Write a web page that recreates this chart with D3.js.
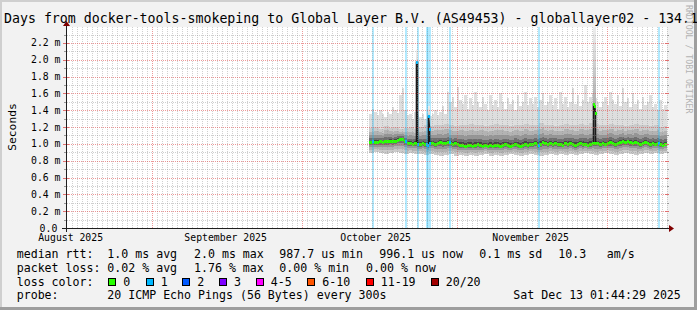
<!DOCTYPE html>
<html>
<head>
<meta charset="utf-8">
<script src="https://cdn.jsdelivr.net/npm/d3@7"></script>
<style>
  html, body { margin: 0; padding: 0; background: #f2f2f2; }
  svg { display: block; }
  text { font-family: "DejaVu Sans Mono", monospace; fill: #000; }
</style>
</head>
<body>
<svg width="697" height="310"></svg>
<script>
/*
 * data (values in ms)
 */
var titleText = "Days from docker-tools-smokeping to Global Layer B.V. (AS49453) - globallayer02 - 134.1";
var startTime = new Date(2025, 7, 15, 1, 44, 29),
    endTime = new Date(2025, 11, 13, 1, 44, 29);
var yMax = 2.39;
var yTickValues = [0, 0.2, 0.4, 0.6, 0.8, 1.0, 1.2, 1.4, 1.6, 1.8, 2.0, 2.2];
var yTickLabels = ["0.0", "0.2 m", "0.4 m", "0.6 m", "0.8 m", "1.0 m", "1.2 m", "1.4 m", "1.6 m", "1.8 m", "2.0 m", "2.2 m"];
var monthLabels = ["August 2025", "September 2025", "October 2025", "November 2025"];

// half-day samples starting here
var firstSample = new Date(2025, 9, 14, 12, 0);
var rttMedian = [
  1.02, 1.03, 1.02, 1.02, 1.03, 1.02, 1.03, 1.03, 1.04, 1.03, 1.04, 1.05,
  1.06, 1.06, 1.03,
  1.01, 1.01, 1.00, 1.01, 1.00,
  1.00, 1.01, 1.00, 0.99, 1.01,
  1.01, 1.00, 1.01, 1.02, 1.01, 1.01,
  1.02, 1.01, 1.00, 1.01, 1.00, 0.99,
  0.99, 0.98, 0.99, 0.99, 0.98, 0.99, 1.00, 0.99, 0.98, 0.99, 0.98, 0.99, 0.98, 0.99,
  0.99, 0.98, 0.99, 1.00, 0.99, 0.98, 0.99, 1.00, 0.99, 0.98, 0.99, 1.00, 0.99, 1.00,
  1.00, 1.01, 0.99, 1.00, 1.02, 1.01, 1.00, 1.01,
  1.00, 1.01, 1.00, 1.00, 0.99, 1.01, 1.00, 1.01, 1.00, 0.99, 1.00, 1.01, 1.00, 1.00, 0.99, 1.00, 1.01,
  1.01, 1.01,
  1.00, 1.01, 1.00, 1.01, 1.02, 1.01, 1.00, 1.01, 1.02, 1.03, 1.02, 1.03, 1.02, 1.01,
  1.02, 1.01, 1.00, 1.01, 1.02, 1.01, 1.00, 1.01, 1.00, 1.01, 1.00, 0.99, 1.00, 1.00
];
var smokeTop = [
  1.36, 1.42, 1.38, 1.34, 1.40, 1.36, 1.32, 1.38, 1.35, 1.44, 1.40, 1.37,
  1.58, 1.66, 1.40,
  1.34, 1.36, 1.30, 1.38, 1.34,
  1.32, 1.36, 1.30, 1.35, 1.33,
  1.36, 1.40, 1.34, 1.38, 1.45, 1.36,
  1.62, 1.50, 1.56, 1.44, 1.68, 1.52,
  1.48, 1.58, 1.42, 1.54, 1.46, 1.62, 1.50, 1.44, 1.56, 1.48, 1.40, 1.58, 1.46, 1.52,
  1.44, 1.60, 1.50, 1.42, 1.55, 1.47, 1.52, 1.40, 1.58, 1.45, 1.50, 1.62, 1.46, 1.54,
  1.48, 1.56, 1.44, 1.52, 1.60, 1.46, 1.50, 1.58,
  1.46, 1.54, 1.42, 1.62, 1.48, 1.56, 1.44, 1.50, 1.66, 1.48, 1.58, 1.45, 1.52, 1.70, 1.50, 1.56, 1.60,
  1.55, 1.50,
  1.44, 1.50, 1.56, 1.46, 1.62, 1.52, 1.48, 1.58, 1.45, 1.66, 1.50, 1.54, 1.44, 1.60,
  1.48, 1.52, 1.42, 1.56, 1.46, 1.50, 1.58, 1.44, 1.48, 1.40, 1.52, 1.42, 1.46, 1.38
];
// daily samples
var smokeBody = [
  1.19, 1.20, 1.18, 1.21, 1.19, 1.20, 1.18, 1.19, 1.20, 1.18,
  1.20, 1.22, 1.21, 1.23, 1.22, 1.24, 1.22, 1.21, 1.23, 1.22,
  1.24, 1.22, 1.23, 1.21, 1.22, 1.24, 1.23, 1.22, 1.21, 1.23,
  1.22, 1.24, 1.22, 1.23, 1.25, 1.22, 1.23, 1.21, 1.22, 1.24,
  1.23, 1.22, 1.24, 1.23, 1.25, 1.24, 1.22, 1.23, 1.24, 1.22,
  1.23, 1.21, 1.22, 1.24, 1.22, 1.23, 1.21, 1.22, 1.20, 1.21
];
var smokeLow = [
  0.89, 0.90, 0.89, 0.88, 0.89, 0.90, 0.89, 0.88, 0.89, 0.88,
  0.88, 0.87, 0.88, 0.87, 0.86, 0.87, 0.88, 0.86, 0.87, 0.86,
  0.87, 0.86, 0.87, 0.88, 0.86, 0.87, 0.86, 0.87, 0.88, 0.87,
  0.86, 0.87, 0.88, 0.87, 0.86, 0.87, 0.88, 0.87, 0.88, 0.87,
  0.88, 0.87, 0.88, 0.89, 0.88, 0.87, 0.88, 0.89, 0.88, 0.87,
  0.88, 0.89, 0.88, 0.87, 0.88, 0.89, 0.88, 0.89, 0.88, 0.89
];

// short spikes (one value per 4.8 h step)
var spikeStart = [new Date(2025, 9, 23, 23), new Date(2025, 9, 26, 5), new Date(2025, 10, 28, 6)];
var spikeMedians = [[1.97], [1.33, 1.18], [1.48, 1.45, 1.37]];
var spikeTop = [2.12, 1.45, 2.39];
var spikeLoss = [1, 1, 0];

// packet loss events
var lossDates = [
  new Date(2025, 9, 15, 1), new Date(2025, 9, 21, 16), new Date(2025, 9, 24, 4),
  new Date(2025, 9, 25, 20), new Date(2025, 9, 26, 4), new Date(2025, 9, 26, 12),
  new Date(2025, 9, 30, 10), new Date(2025, 10, 17, 6), new Date(2025, 11, 11, 6)
];
var lossCounts = [1, 1, 1, 1, 1, 1, 1, 1, 1];

var lossColors = ["#26ff00", "#00b8ff", "#0059ff", "#7e00ff", "#ff00ff", "#ff5500", "#ff0000", "#a10000"];
var lossLabels = ["0", "1", "2", "3", "4-5", "6-10", "11-19", "20/20"];

var legendHeads = ["median rtt:", "packet loss:", "loss color:", "probe:"];
var medianStats = ["1.0 ms avg", "2.0 ms max", "987.7 us min", "996.1 us now", "0.1 ms sd", "10.3", "am/s"];
var lossStats = ["0.02 % avg", "1.76 % max", "0.00 % min", "0.00 % now"];
var probeText = "20 ICMP Echo Pings (56 Bytes) every 300s";
var stampText = "Sat Dec 13 01:44:29 2025";

/*
 * layout
 */
var svg = d3.select("svg"),
    W = 697, H = 310,
    X0 = 67, X1 = 667, Y0 = 228, Y1 = 27;

var x = d3.scaleTime().domain([startTime, endTime]).range([X0, X1]);
var y = d3.scaleLinear().domain([0, yMax]).range([Y0, Y1]);

// background and 3d frame
svg.append("rect").attr("width", W).attr("height", H).attr("fill", "#f2f2f2");
svg.append("rect").attr("width", W).attr("height", 2).attr("fill", "#cfcfcf");
svg.append("rect").attr("width", 2).attr("height", H).attr("fill", "#cfcfcf");
svg.append("rect").attr("y", H - 3).attr("width", W).attr("height", 3).attr("fill", "#9e9e9e");
svg.append("rect").attr("x", W - 3).attr("width", 3).attr("height", H).attr("fill", "#9e9e9e");

// canvas
svg.append("rect").attr("x", X0).attr("y", Y1).attr("width", X1 - X0).attr("height", Y0 - Y1).attr("fill", "#fff");

/*
 * smoke
 */
var hour12 = 12 * 3600 * 1000;
var samples = rttMedian.map(function(m, k) {
  var t0 = d3.timeHour.offset(firstSample, 12 * k),
      t1 = d3.timeHour.offset(firstSample, 12 * (k + 1));
  return {
    x0: Math.round(x(t0)), x1: Math.min(Math.round(x(t1)), X1),
    med: m, top: smokeTop[k], body: smokeBody[k >> 1], low: smokeLow[k >> 1]
  };
});

function sampleAt(date) {
  var k = Math.floor((date - firstSample) / hour12);
  return samples[Math.max(0, Math.min(samples.length - 1, k))];
}

var smoke = svg.append("g").attr("class", "smoke").attr("shape-rendering", "crispEdges");

smoke.append("g").selectAll("rect")
  .data(samples)
  .enter().append("rect")
    .attr("x", function(d) { return d.x0; })
    .attr("width", function(d) { return d.x1 - d.x0; })
    .attr("y", function(d) { return y(d.top); })
    .attr("height", function(d) { return y(d.low) - y(d.top); })
    .attr("fill", "#dedede");

var shades = [
  {f: 1.00, c: "#cbcbcb"},
  {f: 0.72, c: "#b3b3b3"},
  {f: 0.48, c: "#969696"},
  {f: 0.28, c: "#6f6f6f"},
  {f: 0.12, c: "#474747"}
];
shades.forEach(function(s) {
  smoke.append("g").selectAll("rect")
    .data(samples)
    .enter().append("rect")
      .attr("x", function(d) { return d.x0; })
      .attr("width", function(d) { return d.x1 - d.x0; })
      .attr("y", function(d) { return y(d.med + s.f * (d.body - d.med)); })
      .attr("height", function(d) {
        return y(d.med - s.f * (d.med - d.low)) - y(d.med + s.f * (d.body - d.med));
      })
      .attr("fill", s.c);
});

// loss background lines
svg.append("g").attr("shape-rendering", "crispEdges").selectAll("rect")
  .data(lossDates)
  .enter().append("rect")
    .attr("x", function(d) { return Math.round(x(d)); })
    .attr("width", 2)
    .attr("y", Y1)
    .attr("height", Y0 - Y1)
    .attr("fill", function(d, i) { return lossColors[lossCounts[i]]; })
    .attr("opacity", 0.3);

/*
 * spikes
 */
var defs = svg.append("defs");
var spikes = spikeStart.map(function(t, i) {
  var xs = Math.round(x(t)),
      n = spikeMedians[i].length,
      base = sampleAt(t).med;
  return {i: i, xs: xs, xe: xs + n, base: base, meds: spikeMedians[i], top: spikeTop[i], loss: spikeLoss[i]};
});

spikes.forEach(function(s) {
  var grad = defs.append("linearGradient")
      .attr("id", "spk" + s.i).attr("x1", 0).attr("y1", 0).attr("x2", 0).attr("y2", 1);
  grad.append("stop").attr("offset", "0%").attr("stop-color", "#eeeeee");
  grad.append("stop").attr("offset", "100%").attr("stop-color", "#8c8c8c");
});

var spk = svg.append("g").attr("class", "spikes");
spk.selectAll("rect.col")
  .data(spikes)
  .enter().append("rect")
    .attr("class", "col")
    .attr("x", function(d) { return d.xs; })
    .attr("width", function(d) { return Math.max(2, d.xe - d.xs); })
    .attr("y", function(d) { return y(d.top); })
    .attr("height", function(d) { return y(d.base) - y(d.top); })
    .attr("fill", function(d) { return "url(#spk" + d.i + ")"; });

spk.selectAll("path")
  .data(spikes)
  .enter().append("path")
    .attr("fill", "none")
    .attr("stroke", "#1a1a1a")
    .attr("stroke-width", 1.6)
    .attr("d", function(d) {
      var p = d3.path(), xl = d.xs + 0.5, xr = d.xe - 0.5;
      if (xr - xl < 1) xr = xl + 1;
      p.moveTo(xl, y(d.base));
      p.lineTo(xl, y(d.meds[0]));
      d.meds.forEach(function(m, j) {
        if (j > 0) p.lineTo(d.xs + j + 0.5, y(m));
      });
      p.lineTo(xr, y(d.meds[d.meds.length - 1]));
      p.lineTo(xr, y(d.base));
      return p.toString();
    });

/*
 * median
 */
var med = svg.append("g").attr("class", "median").attr("shape-rendering", "crispEdges");
med.selectAll("rect")
  .data(samples)
  .enter().append("rect")
    .attr("x", function(d) { return d.x0; })
    .attr("width", function(d) { return d.x1 - d.x0; })
    .attr("y", function(d) { return Math.round(y(d.med)) - 1.5; })
    .attr("height", 3)
    .attr("fill", lossColors[0]);

med.append("g").selectAll("rect")
  .data(lossDates)
  .enter().append("rect")
    .attr("x", function(d) { return Math.round(x(d)); })
    .attr("width", 2)
    .attr("y", function(d) { return Math.round(y(sampleAt(d).med)) - 1.5; })
    .attr("height", 3)
    .attr("fill", function(d, i) { return lossColors[lossCounts[i]]; });

spikes.forEach(function(s) {
  med.append("g").selectAll("rect")
    .data(s.meds)
    .enter().append("rect")
      .attr("x", function(m, j) { return s.xs + j; })
      .attr("width", 2)
      .attr("y", function(m) { return Math.round(y(m)) - 1.5; })
      .attr("height", 3)
      .attr("fill", lossColors[s.loss]);
});

/*
 * grid (drawn over the data, like rrdtool, with see-through colours)
 */
var minorCol = "rgba(143,143,143,0.42)",
    majorCol = "rgba(222,80,80,0.58)";
var grid = svg.append("g").attr("class", "grid").attr("shape-rendering", "crispEdges");
var months = d3.timeMonth.range(startTime, endTime);
var days = d3.timeDay.range(startTime, endTime).filter(function(d) { return d.getDate() !== 1; });
var yMinor = d3.range(1, 24, 2).map(function(i) { return i / 10; });

grid.selectAll("line.vmin")
  .data(days)
  .enter().append("line")
    .attr("x1", function(d) { return Math.round(x(d)) + 0.5; })
    .attr("x2", function(d) { return Math.round(x(d)) + 0.5; })
    .attr("y1", Y1).attr("y2", Y0)
    .attr("stroke", minorCol).attr("stroke-dasharray", "1,1");

grid.selectAll("line.hmin")
  .data(yMinor)
  .enter().append("line")
    .attr("x1", X0).attr("x2", X1)
    .attr("y1", function(d) { return Math.round(y(d)) + 0.5; })
    .attr("y2", function(d) { return Math.round(y(d)) + 0.5; })
    .attr("stroke", minorCol).attr("stroke-dasharray", "1,1");

grid.selectAll("line.vmaj")
  .data(months)
  .enter().append("line")
    .attr("x1", function(d) { return Math.round(x(d)) + 0.5; })
    .attr("x2", function(d) { return Math.round(x(d)) + 0.5; })
    .attr("y1", Y1).attr("y2", Y0)
    .attr("stroke", majorCol).attr("stroke-dasharray", "1,1");

grid.selectAll("line.hmaj")
  .data(yTickValues.slice(1))
  .enter().append("line")
    .attr("x1", X0).attr("x2", X1)
    .attr("y1", function(d) { return Math.round(y(d)) + 0.5; })
    .attr("y2", function(d) { return Math.round(y(d)) + 0.5; })
    .attr("stroke", majorCol).attr("stroke-dasharray", "1,1");

// small ticks at both plot edges
grid.selectAll("line.tmin")
  .data(yMinor.concat(yMinor))
  .enter().append("line")
    .attr("x1", function(d, i) { return i < yMinor.length ? X0 - 3 : X1; })
    .attr("x2", function(d, i) { return i < yMinor.length ? X0 : X1 + 2; })
    .attr("y1", function(d) { return Math.round(y(d)) + 0.5; })
    .attr("y2", function(d) { return Math.round(y(d)) + 0.5; })
    .attr("stroke", "#999");
grid.selectAll("line.tmaj")
  .data(yTickValues.slice(1).concat(yTickValues.slice(1)))
  .enter().append("line")
    .attr("x1", function(d, i) { return i < yTickValues.length - 1 ? X0 - 4 : X1 - 2; })
    .attr("x2", function(d, i) { return i < yTickValues.length - 1 ? X0 + 2 : X1 + 2; })
    .attr("y1", function(d) { return Math.round(y(d)) + 0.5; })
    .attr("y2", function(d) { return Math.round(y(d)) + 0.5; })
    .attr("stroke", "#e07070");

/*
 * axes + arrows
 */
var axes = svg.append("g").attr("shape-rendering", "crispEdges");
axes.append("line").attr("x1", X0 - 5).attr("x2", X1 + 3).attr("y1", Y0 + 0.5).attr("y2", Y0 + 0.5)
  .attr("stroke", "#1f1f1f").attr("stroke-width", 1.4);
axes.append("line").attr("x1", X0 - 0.5).attr("x2", X0 - 0.5).attr("y1", Y0 + 4).attr("y2", Y1 - 3)
  .attr("stroke", "#1f1f1f").attr("stroke-width", 1.4);

svg.append("path").attr("fill", "#800000")
  .attr("d", "M" + (X1 + 2) + "," + (Y0 - 3) + "L" + (X1 + 2) + "," + (Y0 + 4) + "L" + (X1 + 7) + "," + (Y0 + 0.5) + "Z");
svg.append("path").attr("fill", "#800000")
  .attr("d", "M" + (X0 - 4) + "," + (Y1 - 1) + "L" + (X0 + 3) + "," + (Y1 - 1) + "L" + (X0 - 0.5) + "," + (Y1 - 6) + "Z");

/*
 * texts
 */
svg.append("text").attr("x", 4).attr("y", 22.5).style("font-size", "13.25px").text(titleText);

svg.append("text")
  .attr("transform", "translate(686,5) rotate(90)")
  .style("font-size", "8.2px").style("fill", "#b2b2b2")
  .text("RRDTOOL / TOBI OETIKER");

svg.append("text")
  .attr("transform", "translate(15.5,127) rotate(-90)")
  .attr("text-anchor", "middle")
  .style("font-size", "11.3px")
  .text("Seconds");

svg.append("g").selectAll("text")
  .data(yTickValues)
  .enter().append("text")
    .attr("x", function(d, i) { return yTickLabels[i].indexOf(" ") < 0 ? 57.3 : 60.5; })
    .attr("y", function(d) { return y(d) + 3.5; })
    .attr("text-anchor", "end")
    .style("font-size", "9.8px")
    .text(function(d, i) { return yTickLabels[i]; });

var labelMonths = d3.timeMonth.range(new Date(2025, 7, 1), new Date(2025, 10, 2));
svg.append("g").selectAll("text")
  .data(labelMonths)
  .enter().append("text")
    .attr("x", function(d) { return x(d3.timeDay.offset(d, 15)) - 1; })
    .attr("y", 241)
    .attr("text-anchor", "middle")
    .style("font-size", "9.8px")
    .text(function(d, i) { return monthLabels[i]; });

// legend
var legend = svg.append("g").style("font-size", "11.6px").attr("xml:space", "preserve");
var rowY = [258.4, 271.9, 285.6, 299.3];
legend.selectAll("text.head")
  .data(legendHeads)
  .enter().append("text")
    .attr("x", 16.7)
    .attr("y", function(d, i) { return rowY[i]; })
    .text(function(d) { return d; });

var medianX = [107.3, 194, 279.3, 379.3, 479.3, 558.3, 606.7];
legend.selectAll("text.med")
  .data(medianStats)
  .enter().append("text")
    .attr("x", function(d, i) { return medianX[i]; })
    .attr("y", rowY[0])
    .text(function(d) { return d; });

var lossX = [107.3, 194, 279.3, 366];
legend.selectAll("text.loss")
  .data(lossStats)
  .enter().append("text")
    .attr("x", function(d, i) { return lossX[i]; })
    .attr("y", rowY[1])
    .text(function(d) { return d; });

var boxX = [108.3, 145.7, 182.3, 219, 255.7, 307.3, 365.7, 430.7];
var boxes = legend.selectAll("g.box")
  .data(lossLabels)
  .enter().append("g");
boxes.append("rect")
  .attr("x", function(d, i) { return Math.round(boxX[i]) + 0.5; })
  .attr("y", 278.5)
  .attr("width", 7).attr("height", 7)
  .attr("fill", function(d, i) { return lossColors[i]; })
  .attr("stroke", "#000");
boxes.append("text")
  .attr("x", function(d, i) { return boxX[i] + 15; })
  .attr("y", rowY[2])
  .text(function(d) { return d; });

legend.append("text").attr("x", 107.3).attr("y", rowY[3]).text(probeText);
legend.append("text").attr("x", 513.3).attr("y", rowY[3]).text(stampText);
</script>
</body>
</html>
